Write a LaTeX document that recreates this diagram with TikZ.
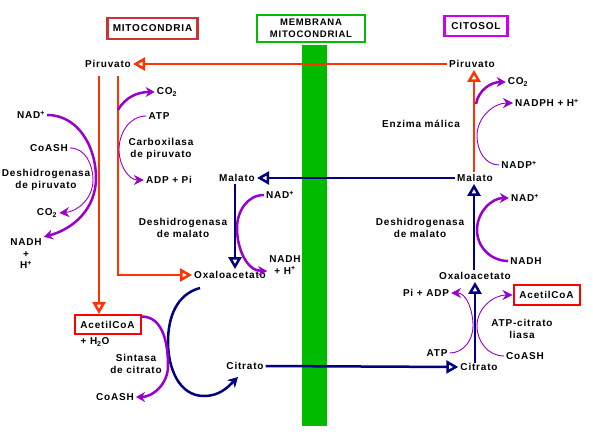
\documentclass[tikz,border=0pt]{standalone}
\usepackage{fontspec}
\setmainfont{Liberation Sans}[LetterSpace=8]
\usetikzlibrary{arrows.meta}
\definecolor{redln}{HTML}{FF3300}
\definecolor{navyln}{HTML}{000080}
\definecolor{purpln}{HTML}{9900CC}
\definecolor{membr}{HTML}{00BB00}
\definecolor{mitbox}{HTML}{CC3333}
\definecolor{citbox}{HTML}{CC00EE}
\tikzset{
	lblstyle/.style={font=\fontsize{10}{11.5}\selectfont\bfseries,inner sep=2pt,align=center},
	titlestyle/.style={lblstyle,rectangle,draw,line width=2.5pt},
	redarrow/.style={draw=redln,line width=2.5pt,-{Triangle[open,length=12pt,width=13pt]}},
	navyarrow/.style={draw=navyln,line width=2.5pt,-{Triangle[open,length=12pt,width=13pt]}},
	navyarc/.style={draw=navyln,line width=2.5pt,-{Stealth[length=10pt,width=11pt]}},
	thickarc/.style={draw=purpln,line width=2.5pt,-{Stealth[length=9pt,width=10pt]}},
	thinarc/.style={draw=purpln,line width=0.9pt,-{Stealth[length=10pt,width=10pt]}}
}

\begin{document}
\begin{tikzpicture}[x=1pt,y=-1pt]
		\useasboundingbox (0,0) rectangle (593,433);
		\fill[membr] (302,45) rectangle (327,426);
		% titulos
		\node[titlestyle,draw=mitbox,minimum width=90pt,minimum height=21pt] (tmit) at (152.5,28.5) {MITOCONDRIA};
		\node[titlestyle,draw=membr,minimum width=108pt,minimum height=27pt,font=\fontsize{9.5}{12}\selectfont\bfseries] (tmem) at (311,28.5) {MEMBRANA\\MITOCONDRIAL};
		\node[titlestyle,draw=citbox,minimum width=63pt,minimum height=20pt] (tcit) at (476,26) {CITOSOL};
		% mitocondria
		\node[lblstyle] (pirm) at (108,64) {Piruvato};
		\node[lblstyle] (malm) at (237,178) {Malato};
		\node[lblstyle] (oxm) at (230,275) {Oxaloacetato};
		\node[lblstyle] (citm) at (245,366) {Citrato};
		\node[lblstyle,rectangle,draw=red,line width=2pt,minimum width=66pt,minimum height=19pt] (acm) at (107.5,324.5) {AcetilCoA};
		\node[lblstyle] (h2o) at (95,342) {+ H\textsubscript{2}O};
		\node[lblstyle] (nad1) at (31,115) {NAD\textsuperscript{+}};
		\node[lblstyle] (coa1) at (49,148) {CoASH};
		\node[lblstyle] (pdh) at (46,180) {Deshidrogenasa\\de piruvato};
		\node[lblstyle] (co21) at (47,213) {CO\textsubscript{2}};
		\node[lblstyle] (nadh1) at (26,254) {NADH\\+\\H\textsuperscript{+}};
		\node[lblstyle] (co22) at (167,92) {CO\textsubscript{2}};
		\node[lblstyle] (atp1) at (159,116) {ATP};
		\node[lblstyle] (pc) at (161,149) {Carboxilasa\\de piruvato};
		\node[lblstyle] (adp1) at (169,180) {ADP + Pi};
		\node[lblstyle] (nad2) at (280,195) {NAD\textsuperscript{+}};
		\node[lblstyle] (mdh1) at (183,228) {Deshidrogenasa\\de malato};
		\node[lblstyle] (nadh2) at (285,265) {NADH\\+ H\textsuperscript{+}};
		\node[lblstyle] (cs) at (136,364) {Sintasa\\de citrato};
		\node[lblstyle] (coa2) at (115,397) {CoASH};
		% citosol
		\node[lblstyle] (pirc) at (472,64) {Piruvato};
		\node[lblstyle] (malc) at (475,178) {Malato};
		\node[lblstyle] (oxc) at (475,276) {Oxaloacetato};
		\node[lblstyle] (citc) at (479,367) {Citrato};
		\node[lblstyle,rectangle,draw=red,line width=2pt,minimum width=66pt,minimum height=20pt] (acc) at (546.5,295) {AcetilCoA};
		\node[lblstyle] (co23) at (518,82) {CO\textsubscript{2}};
		\node[lblstyle] (nadph) at (547,103) {NADPH + H\textsuperscript{+}};
		\node[lblstyle] (em) at (421,124) {Enzima málica};
		\node[lblstyle] (nadp) at (519,165) {NADP\textsuperscript{+}};
		\node[lblstyle] (nad3) at (525,198) {NAD\textsuperscript{+}};
		\node[lblstyle] (mdh2) at (420,228) {Deshidrogenasa\\de malato};
		\node[lblstyle] (nadh3) at (526,261) {NADH};
		\node[lblstyle] (piadp) at (426,293) {Pi + ADP};
		\node[lblstyle] (acl) at (522,329) {ATP-citrato\\liasa};
		\node[lblstyle] (atp2) at (437,353) {ATP};
		\node[lblstyle] (coa3) at (525,356) {CoASH};
		% puntos libres
		\coordinate (pd1) at (99,76);
		\coordinate (pd2) at (118,76);
		\coordinate (cs1) at (200,288);
		\coordinate (cs2) at (238,377);
		% flechas entre compartimentos
		\draw[redarrow] (pirc.west) -- (pirm.east);
		\draw[navyarrow] (malc.west) -- (malm.east);
		\draw[navyarrow] (citm.east) -- (citc.west);
		\draw[redarrow] (pd1) -- (pd1 |- acm.north);
		\draw[redarrow] (pd2) |- (oxm.west);
		\draw[navyarrow] ([xshift=-2pt]malm.south) -- ([xshift=-2pt]malm.south |- oxm.north);
		\draw[navyarc] (cs1) to[out=195,in=90] (168,342) to[out=270,in=180] (204,396) to[out=0,in=225] (cs2);
		\draw[redarrow] (malc.north -| 474,0) -- (pirc.south -| 474,0);
		\draw[navyarrow] (oxc.north -| 474,0) -- (malc.south -| 474,0);
		\draw[navyarrow] ([yshift=-2pt]citc.north -| 475,0) -- (oxc.south -| 475,0);
		% reacciones
		\draw[thickarc] (nad1.east) to[out=0,in=90] (96,178) to[out=270,in=15] (nadh1.north east);
		\draw[thinarc] (coa1.east) to[out=0,in=90] (93,180) to[out=270,in=5] (co21.east);
		\draw[thickarc] (118,110) to[out=60,in=180] (co22.west);
		\draw[thinarc] (atp1.west) to[out=180,in=90] (119,150) to[out=270,in=180] (adp1.west);
		\draw[thickarc] (nad2.west) to[out=180,in=90] (237,228) to[out=270,in=180] ([yshift=-6pt]nadh2.west);
		\draw[thickarc] ([yshift=8pt]acm.east) to[out=0,in=90] (168,366) to[out=270,in=0] (coa2.east);
		\draw[thickarc] (476,104) to[out=80,in=180] (co23.west);
		\draw[thinarc] (nadp.west) to[out=180,in=270] (477,136) to[out=90,in=180] (nadph.west);
		\draw[thickarc] (nadh3.west) to[out=180,in=270] (477,230) to[out=90,in=180] (nad3.west);
		\draw[thinarc] (atp2.east) to[out=0,in=270] (473,326) to[out=90,in=0] (piadp.east);
		\draw[thinarc] (coa3.west) to[out=180,in=270] (477,326) to[out=90,in=180] (acc.west);
\end{tikzpicture}
\end{document}
